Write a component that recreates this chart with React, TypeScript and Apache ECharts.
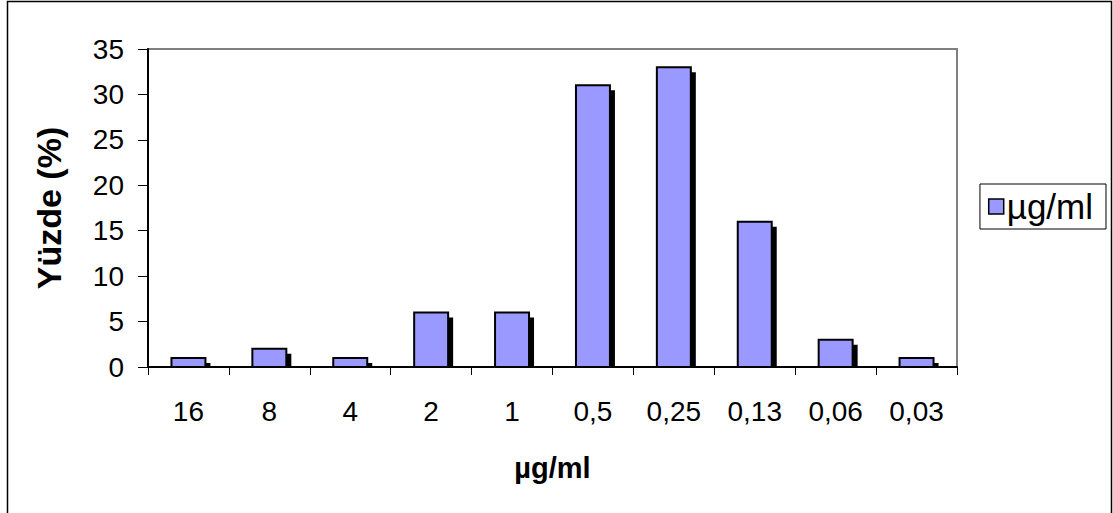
import React, { useEffect, useRef } from "react";
import * as echarts from "echarts";

const categories: string[] = ["16", "8", "4", "2", "1", "0,5", "0,25", "0,13", "0,06", "0,03"];
const percentValues: number[] = [1, 2, 1, 6, 6, 31, 33, 16, 3, 1];
const yTicks = { min: 0, max: 35, interval: 5 };
const seriesName = "µg/ml";
const yTitle = "Yüzde (%)";
const xTitle = "µg/ml";

export default function App() {
  const ref = useRef<HTMLDivElement>(null);
  useEffect(() => {
    if (!ref.current) return;
    const chart = echarts.init(ref.current, null, { renderer: "svg" });
    const font = "'Liberation Sans', Arial, sans-serif";
    chart.setOption({
      animation: false,
      backgroundColor: "#ffffff",
      textStyle: { fontFamily: font, color: "#000" },
      graphic: [
        {
          type: "rect",
          shape: { x: 7.5, y: 1.5, width: 1104, height: 530 },
          style: { fill: "none", stroke: "#000", lineWidth: 1.5 },
          silent: true,
          z: -10,
        },
      ],
      grid: {
        left: 148,
        top: 49,
        right: 156,
        bottom: 146,
        show: true,
        borderColor: "#808080",
        borderWidth: 2,
        backgroundColor: "#fff",
      },
      legend: {
        data: [seriesName],
        right: 7,
        top: 184,
        orient: "vertical",
        icon: "rect",
        itemWidth: 15,
        itemHeight: 15,
        itemGap: 4,
        padding: [5, 13, 5, 8],
        borderColor: "#000",
        borderWidth: 1,
        itemStyle: { color: "#9999ff", borderColor: "#000", borderWidth: 1.5 },
        textStyle: { fontSize: 35, fontFamily: font, color: "#000", padding: [0, 0, 0, -2] },
      },
      xAxis: {
        type: "category",
        data: categories,
        boundaryGap: true,
        name: xTitle,
        nameLocation: "middle",
        nameGap: 86,
        nameTextStyle: { fontSize: 29, fontWeight: "bold", fontFamily: font, color: "#000" },
        axisLine: { lineStyle: { color: "#000", width: 2 } },
        axisTick: { show: true, alignWithLabel: false, length: 8, lineStyle: { color: "#000", width: 1 } },
        axisLabel: { fontSize: 28, color: "#000", margin: 30, fontFamily: font, interval: 0 },
        splitLine: { show: false },
      },
      yAxis: {
        type: "value",
        min: yTicks.min,
        max: yTicks.max,
        interval: yTicks.interval,
        name: yTitle,
        nameLocation: "middle",
        nameGap: 82,
        nameTextStyle: { fontSize: 34, fontWeight: "bold", fontFamily: font, color: "#000" },
        axisLine: { show: true, lineStyle: { color: "#000", width: 2 } },
        axisTick: { show: true, length: 10, lineStyle: { color: "#000", width: 1 } },
        axisLabel: { fontSize: 28, color: "#000", margin: 24, fontFamily: font },
        splitLine: { show: false },
      },
      series: [
        {
          name: seriesName,
          type: "custom",
          itemStyle: { color: "#9999ff" },
          data: percentValues.map((v, i) => [i, v]),
          encode: { x: 0, y: 1 },
          renderItem: (params: any, api: any) => {
            const idx = api.value(0);
            const v = api.value(1);
            const top = api.coord([idx, v]);
            const base = api.coord([idx, 0]);
            const bw = api.size([1, 0])[0] * 0.42;
            const x = top[0] - bw / 2;
            const off = 5;
            const shadowTop = Math.min(top[1] + off, base[1]);
            return {
              type: "group",
              children: [
                {
                  type: "rect",
                  shape: { x: x + off, y: shadowTop, width: bw, height: base[1] - shadowTop },
                  style: { fill: "#000" },
                },
                {
                  type: "rect",
                  shape: { x, y: top[1], width: bw, height: base[1] - top[1] },
                  style: { fill: "#9999ff", stroke: "#000", lineWidth: 2 },
                },
              ],
            };
          },
        },
      ],
    });
    return () => chart.dispose();
  }, []);
  return (
    <div
      ref={ref}
      style={{ position: "absolute", left: 0, top: 0, width: 1113, height: 513 }}
    />
  );
}
